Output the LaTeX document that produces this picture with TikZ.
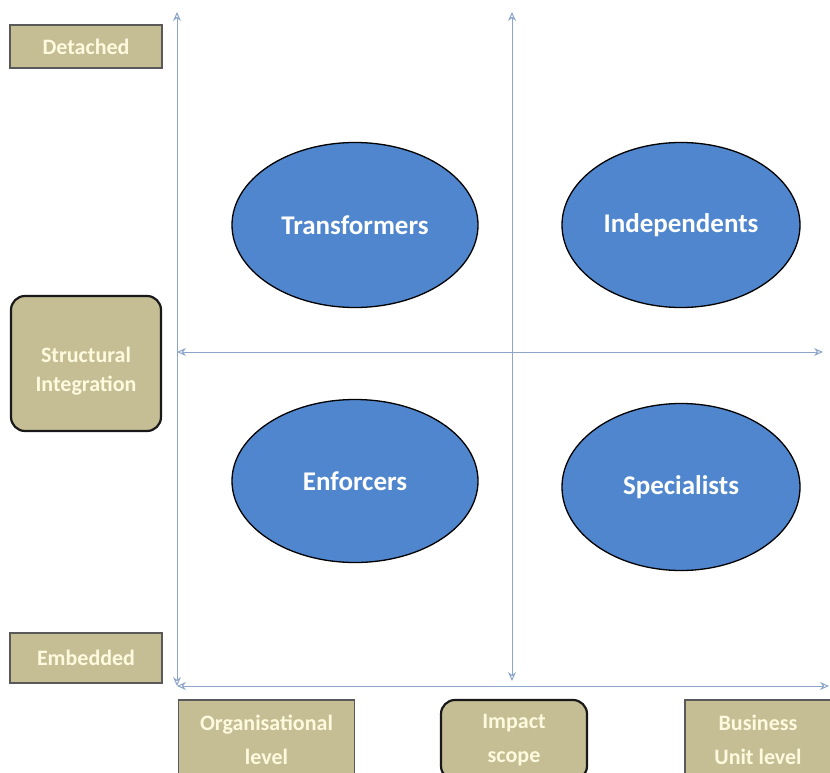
\documentclass[tikz,border=0pt]{standalone}
\usepackage{fontspec}
\setmainfont{Carlito}
\usetikzlibrary{arrows.meta,shapes.geometric}
\definecolor{tan}{RGB}{197,189,148}
\definecolor{cream}{RGB}{255,250,222}
\definecolor{blu}{RGB}{79,134,205}
\definecolor{axis}{RGB}{140,165,200}
\tikzset{
  lab/.style={draw=black!65, line width=1.2pt, fill=tan, text=cream, font=\bfseries\fontsize{22}{29}\selectfont, align=center, inner sep=0pt},
  rlab/.style={lab, draw=black!90, line width=2.2pt, rounded corners=14pt},
  blab/.style={font=\bfseries\fontsize{22}{34}\selectfont},
  quad/.style={ellipse, draw=black, line width=1.3pt, fill=blu, text=white, font=\bfseries\fontsize{27}{30}\selectfont, inner sep=0pt},
  ax/.style={draw=axis, line width=1pt, {Stealth[length=9pt,width=8pt,open]}-{Stealth[length=9pt,width=8pt,open]}},
}
\begin{document}
\begin{tikzpicture}[x=1pt,y=-1pt]
\useasboundingbox (0,0) rectangle (830,773);
% axes
\coordinate (o) at (177,686);
\coordinate (ltop) at (177,12);
\coordinate (rend) at (829,686);
\coordinate (mtop) at (512,12);
\coordinate (mbot) at (512,681);
\coordinate (hl) at (177,352);
\coordinate (hr) at (823,352);
\draw[ax] (o) -- (ltop);
\draw[ax] (o) -- (rend);
\draw[ax] (mtop) -- (mbot);
\draw[ax] (hl) -- (hr);
% ellipses
\node[quad, minimum width=246pt, minimum height=165pt] (tr) at (355,225) {Transformers};
\node[quad, minimum width=238pt, minimum height=165pt] (ind) at (681,225) {Independents};
\node[quad, minimum width=246pt, minimum height=163pt] (enf) at (355,481) {Enforcers};
\node[quad, minimum width=238pt, minimum height=167pt] (spe) at (681,487) {Specialists};
% labels
\node[lab, minimum width=152pt, minimum height=43pt] (det) at (86,46.5) {Detached};
\node[rlab, minimum width=150pt, minimum height=135pt] (si) at (86,363.5) {\rule{0pt}{30pt}Structural\\Integration};
\node[lab, minimum width=152pt, minimum height=50pt] (emb) at (86,658) {Embedded};
\node[lab, blab, minimum width=176pt, minimum height=80pt] (org) at (266.5,740) {Organisational\\level};
\node[rlab, blab, minimum width=146pt, minimum height=80pt] (imp) at (514,740) {Impact\\scope};
\node[lab, blab, minimum width=146pt, minimum height=80pt] (bus) at (758,740) {Business\\Unit level};
\end{tikzpicture}
\end{document}
